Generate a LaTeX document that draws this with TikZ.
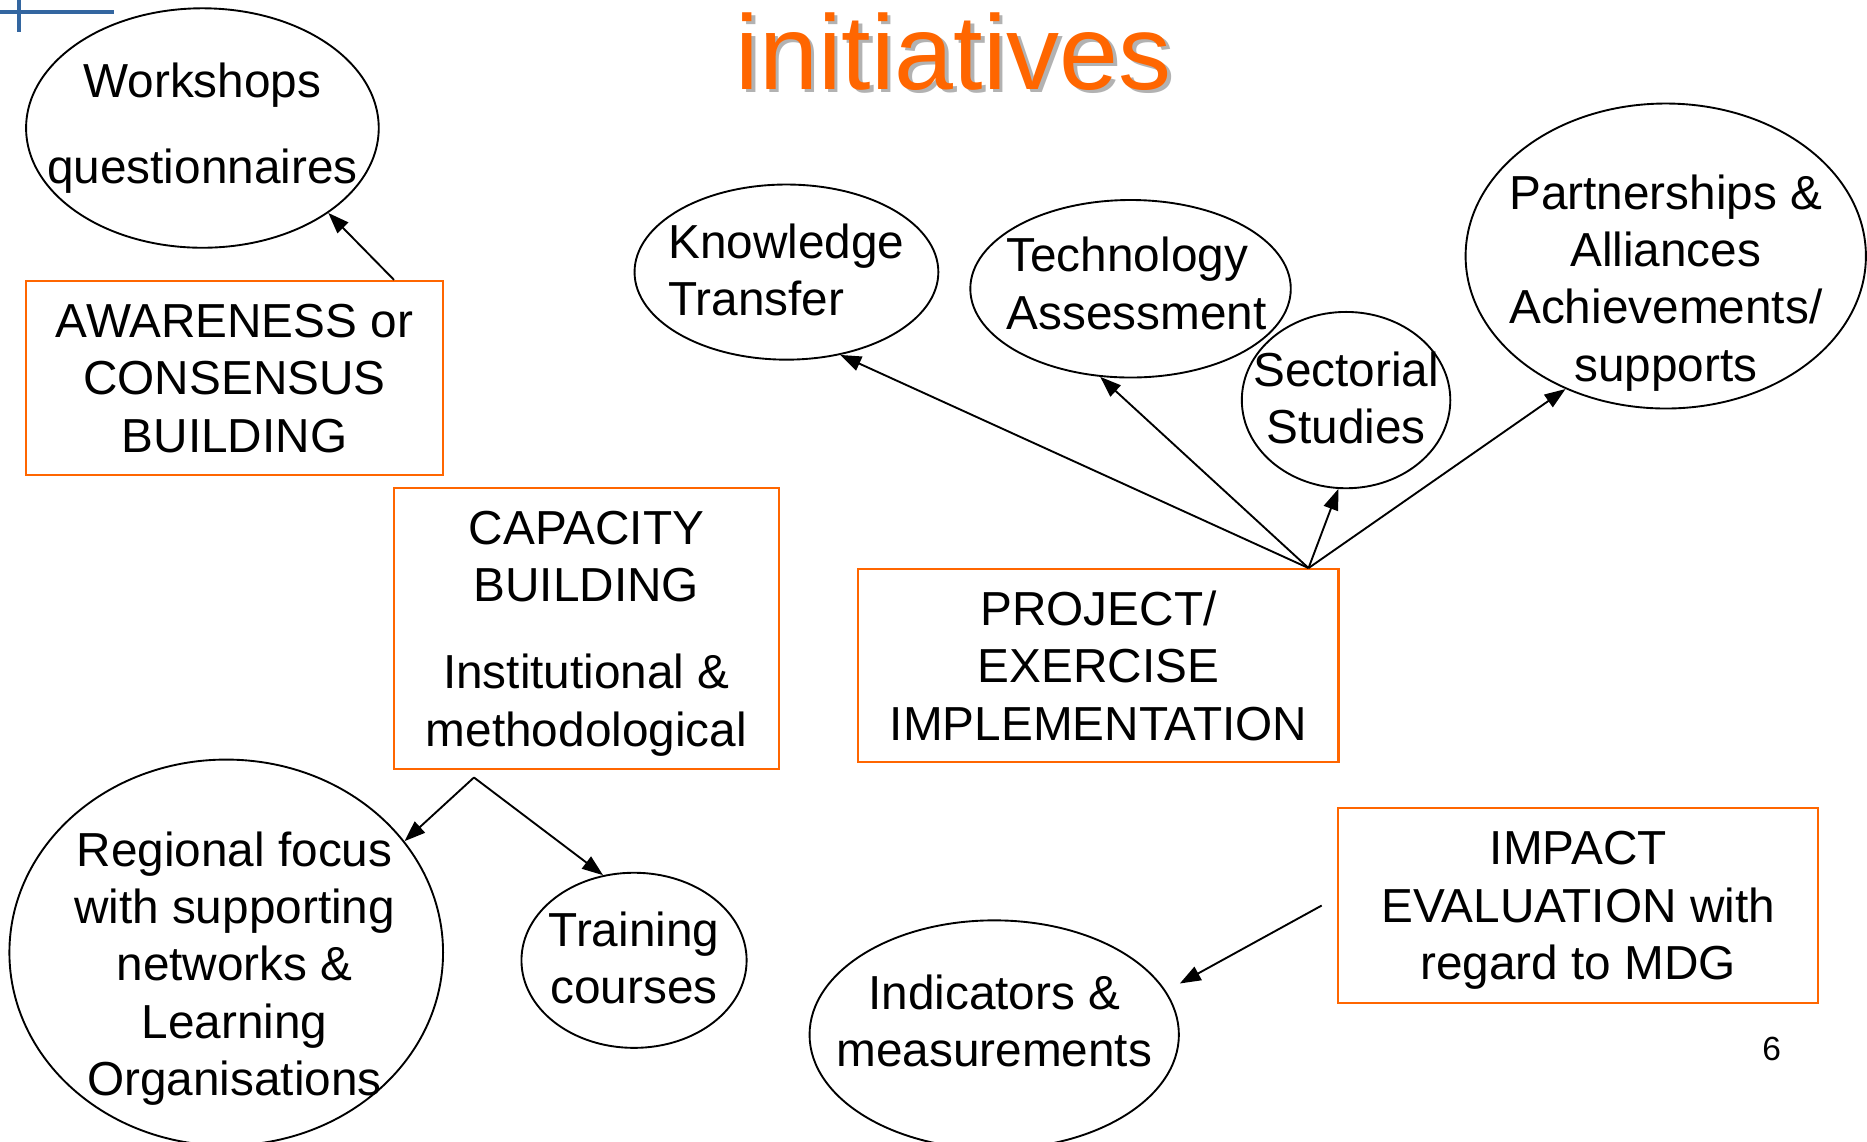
\documentclass[tikz,border=0pt]{standalone}
\usepackage{fontspec}
\setmainfont{Liberation Sans}
\usetikzlibrary{shapes.geometric, arrows.meta, positioning}
\definecolor{boxorange}{RGB}{255,102,0}
\definecolor{titleorange}{RGB}{255,102,0}
\definecolor{shadowgray}{RGB}{178,178,178}
\definecolor{crossblue}{RGB}{51,102,160}
\tikzset{
  every node/.style={font=\fontsize{11.4pt}{13.7pt}\selectfont},
  bubble/.style={draw, ellipse, line width=0.45pt, inner sep=0pt},
  orangebox/.style={draw=boxorange, line width=0.5pt, rectangle, align=center, inner sep=0pt, text depth=0pt},
  txt/.style={align=center, inner sep=0pt},
  link/.style={-{Triangle[length=5pt,width=3.6pt]}, line width=0.45pt},
  heading/.style={font=\fontsize{25.3pt}{30pt}\selectfont, anchor=base, inner sep=0pt}
}

\begin{document}
\begin{tikzpicture}[x=0.01cm, y=-0.01cm]
                \useasboundingbox[fill=white] (0,0) rectangle (1568,959);
                % corner mark
                \draw[crossblue, line width=0.8pt] (0,10) -- (96,10);
                \draw[crossblue, line width=0.8pt] (16,0) -- (16,27);
                % heading
                \node[heading, text=shadowgray] (heading-shadow) at (804,78) {initiatives};
                \node[heading, text=titleorange] (heading) at (801,75) {initiatives};
                % boxes
                \node[orangebox, minimum width=3.5cm, minimum height=1.63cm] (aware) at (197,317.5)
                    {AWARENESS or\\CONSENSUS\\BUILDING};
                \node[orangebox, minimum width=3.23cm, minimum height=2.36cm] (cap) at (492.5,528)
                    {CAPACITY\\BUILDING\\[0.25cm]Institutional \&\\methodological};
                \node[orangebox, minimum width=4.03cm, minimum height=1.62cm] (proj) at (922.5,559)
                    {PROJECT/\\EXERCISE\\IMPLEMENTATION};
                \node[orangebox, minimum width=4.03cm, minimum height=1.63cm] (imp) at (1325.5,760.5)
                    {IMPACT\\EVALUATION with\\regard to MDG};
                % bubbles
                \node[bubble, minimum width=2.96cm, minimum height=2.01cm,
                    label={[txt]center:Workshops\\[0.24cm]questionnaires}] (work) at (170,107.5) {};
                \node[bubble, minimum width=2.55cm, minimum height=1.47cm,
                    label={[txt, align=left, yshift=0.02cm]center:Knowledge\\Transfer}] (know) at (660.5,228.5) {};
                \node[bubble, minimum width=2.69cm, minimum height=1.49cm,
                    label={[txt, align=left, xshift=0.05cm, yshift=0.045cm]center:Technology\\Assessment}] (tech) at (949.5,242.5) {};
                \node[bubble, minimum width=1.75cm, minimum height=1.48cm,
                    label={[txt, yshift=0.02cm]center:Sectorial\\Studies}] (sect) at (1130.5,336) {};
                \node[bubble, minimum width=3.36cm, minimum height=2.56cm,
                    label={[txt, yshift=-0.225cm]center:Partnerships \&\\Alliances\\Achievements/\\supports}] (part) at (1399,215) {};
                \node[bubble, minimum width=3.64cm, minimum height=3.24cm,
                    label={[txt, xshift=0.07cm, yshift=-0.135cm]center:Regional focus\\with supporting\\networks \&\\Learning\\Organisations}] (reg) at (190,800) {};
                \node[bubble, minimum width=1.89cm, minimum height=1.47cm,
                    label={[txt, yshift=0.02cm]center:Training\\courses}] (train) at (532.5,806.5) {};
                \node[bubble, minimum width=3.1cm, minimum height=1.92cm,
                    label={[txt, yshift=0.115cm]center:Indicators \&\\measurements}] (ind) at (835,869) {};
                % page number
                \node[inner sep=0pt, font=\fontsize{8pt}{9.6pt}\selectfont] (pagenum) at (1488,881) {6};
                % connectors
                \coordinate (hub) at ([xshift=-0.26cm]proj.north east);
                \coordinate (capfork) at ([xshift=0.68cm,yshift=-0.06cm]cap.south west);
                \coordinate (impfoot) at ([xshift=-0.13cm]imp.west);
                \draw[link] ([xshift=-0.42cm]aware.north east) -- (work.-34);
                \draw[link] (hub) -- (know.-57);
                \draw[link] (hub) -- (tech.-109);
                \draw[link] (hub) -- (sect.-95);
                \draw[link] (hub) -- (part.-127);
                \draw[link] (capfork) -- (reg.32);
                \draw[link] (capfork) -- (train.110);
                \draw[link] (impfoot) -- ([yshift=0.43cm]ind.east);
            \end{tikzpicture}
\end{document}
